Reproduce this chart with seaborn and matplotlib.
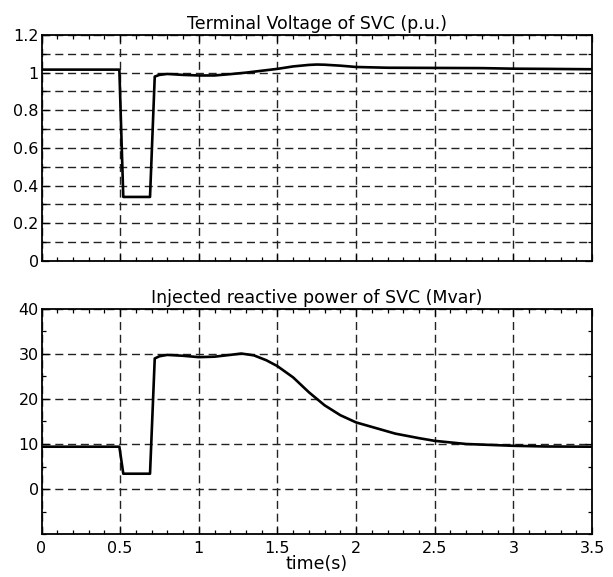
import numpy as np
import pandas as pd
import matplotlib
matplotlib.use("Agg")
import matplotlib.pyplot as plt
import seaborn as sns
from matplotlib.ticker import MultipleLocator, FuncFormatter

# ---- data ----
t_v = [0, 0.495, 0.52, 0.69, 0.72, 0.75, 0.8, 0.9, 1.0, 1.1, 1.2, 1.3, 1.4,
       1.5, 1.6, 1.7, 1.75, 1.8, 1.9, 2.0, 2.2, 2.5, 2.8, 3.0, 3.2, 3.5]
voltage = [1.016, 1.016, 0.34, 0.34, 0.979, 0.988, 0.993, 0.988, 0.985, 0.985,
           0.992, 1.0, 1.01, 1.02, 1.033, 1.041, 1.043, 1.042, 1.037, 1.03,
           1.026, 1.025, 1.024, 1.021, 1.02, 1.018]

t_q = [0, 0.495, 0.52, 0.69, 0.72, 0.75, 0.8, 0.9, 1.0, 1.1, 1.2, 1.27, 1.35,
       1.43, 1.5, 1.6, 1.7, 1.8, 1.9, 2.0, 2.1, 2.25, 2.4, 2.5, 2.7, 2.85,
       3.0, 3.2, 3.5]
qpower = [9.4, 9.4, 3.4, 3.4, 29.0, 29.5, 29.8, 29.6, 29.3, 29.4, 29.8, 30.1,
          29.7, 28.6, 27.3, 24.8, 21.5, 18.6, 16.4, 14.8, 13.8, 12.3, 11.3,
          10.7, 10.0, 9.8, 9.6, 9.45, 9.4]

title_v = "Terminal Voltage of SVC (p.u.)"
title_q = "Injected reactive power of SVC (Mvar)"
xlabel = "time(s)"

df_v = pd.DataFrame({"t": t_v, "v": voltage})
df_q = pd.DataFrame({"t": t_q, "q": qpower})

sns.set_style("ticks")
plt.rcParams["font.family"] = ["DejaVu Sans"]
plt.rcParams["text.color"] = "black"
plt.rcParams["axes.labelcolor"] = "black"

fig = plt.figure(figsize=(6.13, 5.77), dpi=100)
ax1 = fig.add_axes([0.0677, 0.5477, 0.8980, 0.3917])
ax2 = fig.add_axes([0.0677, 0.0745, 0.8980, 0.3900])

sns.lineplot(data=df_v, x="t", y="v", ax=ax1, color="black", lw=1.9, sort=False)
sns.lineplot(data=df_q, x="t", y="q", ax=ax2, color="black", lw=1.9, sort=False)

grid_kw = dict(linestyle=(0, (5.8, 3.4)), color="#222222", lw=1.0)
fmt = FuncFormatter(lambda v, p: f"{v:g}")

for ax in (ax1, ax2):
    ax.set_xlim(0, 3.5)
    ax.xaxis.set_major_locator(MultipleLocator(0.5))
    ax.xaxis.set_minor_locator(MultipleLocator(0.1))
    ax.xaxis.set_major_formatter(fmt)
    ax.yaxis.set_major_formatter(fmt)
    ax.tick_params(which="both", direction="in", top=True, right=True,
                   labelsize=11.5, width=0.9, colors="black")
    ax.tick_params(which="major", length=5)
    ax.tick_params(which="minor", length=3)
    ax.tick_params(axis="y", pad=2)
    ax.tick_params(axis="x", pad=5)
    ax.set_ylabel("")
    ax.set_xlabel("")
    for s in ax.spines.values():
        s.set_linewidth(1.3)
        s.set_color("black")
    ax.xaxis.grid(True, which="major", **grid_kw)
    ax.set_axisbelow(True)

ax1.set_ylim(0, 1.2)
ax1.yaxis.set_major_locator(MultipleLocator(0.2))
ax1.yaxis.set_minor_locator(MultipleLocator(0.1))
ax1.yaxis.grid(True, which="both", **grid_kw)
ax1.tick_params(axis="x", labelbottom=False)
ax1.set_title(title_v, fontsize=12.5, pad=4, color="black")

ax2.set_ylim(-10, 40)
ax2.set_yticks([0, 10, 20, 30, 40])
ax2.yaxis.set_minor_locator(MultipleLocator(5))
ax2.yaxis.grid(True, which="major", **grid_kw)
ax2.set_title(title_q, fontsize=12.5, pad=4, color="black")
ax2.set_xlabel(xlabel, fontsize=12.5, labelpad=-1, color="black")

fig.savefig("out.png", dpi=100)
